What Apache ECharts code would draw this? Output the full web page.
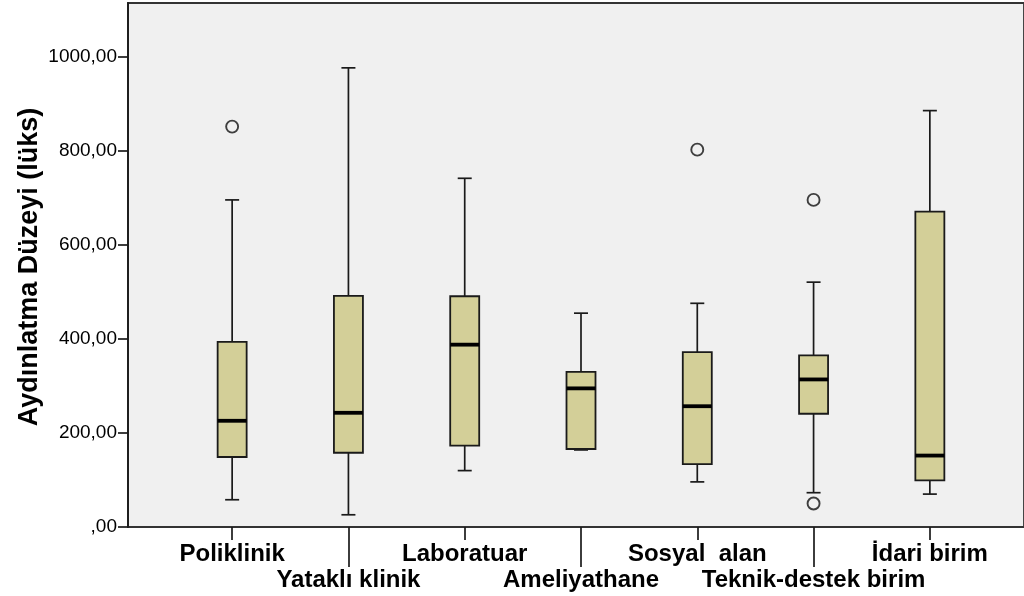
<!DOCTYPE html>
<html>
<head>
<meta charset="utf-8">
<script src="https://cdn.jsdelivr.net/npm/echarts@6/dist/echarts.min.js"></script>
<style>html,body{margin:0;padding:0;background:#fff;}#c{width:1024px;height:596px;}</style>
</head>
<body>
<div id="c"></div>
<script>
const categories = ['Poliklinik', 'Yataklı klinik', 'Laboratuar', 'Ameliyathane', 'Sosyal  alan', 'Teknik-destek birim', 'İdari birim'];
const whiskerLow = [58, 26, 120, 164, 96, 73, 70];
const q1 = [149, 158, 173, 166, 134, 241, 99];
const median = [226, 243, 388, 295, 257, 314, 152];
const q3 = [394, 492, 491, 330, 372, 365, 671];
const whiskerHigh = [696, 977, 742, 455, 476, 521, 886];
const outliers = [[0, 852], [4, 803], [5, 696], [5, 50]];
const yTicks = [0, 200, 400, 600, 800, 1000];
const yTitle = 'Aydınlatma Düzeyi (lüks)';

const boxData = categories.map((c, i) => [i, whiskerLow[i], q1[i], median[i], q3[i], whiskerHigh[i]]);
const FONT = '"Liberation Sans", Arial, sans-serif';
const LINE = '#1a1a1a';

function renderBox(params, api) {
  const i = api.value(0);
  const pLo = api.coord([i, api.value(1)]);
  const pQ1 = api.coord([i, api.value(2)]);
  const pMed = api.coord([i, api.value(3)]);
  const pQ3 = api.coord([i, api.value(4)]);
  const pHi = api.coord([i, api.value(5)]);
  const cx = pMed[0];
  const hw = 14.5, cw = 7;
  const ls = {stroke: LINE, lineWidth: 1.7};
  return {
    type: 'group',
    children: [
      {type: 'line', shape: {x1: cx, y1: pQ1[1], x2: cx, y2: pLo[1]}, style: ls},
      {type: 'line', shape: {x1: cx - cw, y1: pLo[1], x2: cx + cw, y2: pLo[1]}, style: ls},
      {type: 'line', shape: {x1: cx, y1: pQ3[1], x2: cx, y2: pHi[1]}, style: ls},
      {type: 'line', shape: {x1: cx - cw, y1: pHi[1], x2: cx + cw, y2: pHi[1]}, style: ls},
      {type: 'rect', shape: {x: cx - hw, y: pQ3[1], width: hw * 2, height: pQ1[1] - pQ3[1]},
        style: {fill: '#d3cf98', stroke: LINE, lineWidth: 1.8}},
      {type: 'line', shape: {x1: cx - hw, y1: pMed[1], x2: cx + hw, y2: pMed[1]}, style: {stroke: '#000', lineWidth: 3.8}}
    ]
  };
}

const chart = echarts.init(document.getElementById('c'), null, {renderer: 'canvas'});
const yMax = 1115;
chart.setOption({
  animation: false,
  backgroundColor: '#ffffff',
  grid: [
    {left: 128, top: 3, width: 930, height: 524, show: true, backgroundColor: '#f0f0f0', borderColor: '#333', borderWidth: 1.8},
    {left: 174, top: 3, width: 814, height: 524, show: false}
  ],
  xAxis: [
    {gridIndex: 0, type: 'value', show: false, min: 0, max: 1},
    {gridIndex: 1, type: 'category', data: categories, position: 'bottom',
      axisLine: {show: false},
      axisTick: {show: true, alignWithLabel: true, length: 13, interval: (i) => i % 2 === 0, lineStyle: {color: LINE, width: 1.7}},
      axisLabel: {interval: (i) => i % 2 === 0, margin: 15, color: '#000', fontFamily: FONT, fontWeight: 'bold', fontSize: 24, lineHeight: 24},
      splitLine: {show: false}},
    {gridIndex: 1, type: 'category', data: categories, position: 'bottom',
      axisLine: {show: false},
      axisTick: {show: true, alignWithLabel: true, length: 40, interval: (i) => i % 2 === 1, lineStyle: {color: LINE, width: 1.7}},
      axisLabel: {interval: (i) => i % 2 === 1, margin: 41, color: '#000', fontFamily: FONT, fontWeight: 'bold', fontSize: 24, lineHeight: 24},
      splitLine: {show: false}}
  ],
  yAxis: [
    {gridIndex: 0, type: 'value', min: 0, max: yMax, interval: 200,
      axisLine: {show: true, lineStyle: {color: LINE, width: 1.8}},
      axisTick: {show: true, length: 10, lineStyle: {color: LINE, width: 1.7},
        customValues: yTicks},
      axisLabel: {margin: 11, color: '#000', fontFamily: FONT, fontSize: 19,
        customValues: yTicks,
        formatter: (v) => (v === 0 ? ',00' : v + ',00')},
      splitLine: {show: false}},
    {gridIndex: 1, type: 'value', min: 0, max: yMax, show: false}
  ],
  graphic: [
    {type: 'text', x: 30, y: 267, rotation: Math.PI / 2,
      style: {text: yTitle, font: 'bold 27px "Liberation Sans", Arial, sans-serif', fill: '#000', textAlign: 'center', textVerticalAlign: 'middle'}}
  ],
  series: [
    {type: 'custom', xAxisIndex: 1, yAxisIndex: 1, renderItem: renderBox,
      encode: {x: 0, y: [1, 2, 3, 4, 5]}, data: boxData, z: 3},
    {type: 'scatter', xAxisIndex: 1, yAxisIndex: 1, data: outliers, symbol: 'circle', symbolSize: 12,
      itemStyle: {color: 'rgba(0,0,0,0)', borderColor: '#111', borderWidth: 1.9}, z: 4}
  ]
});
</script>
</body>
</html>
